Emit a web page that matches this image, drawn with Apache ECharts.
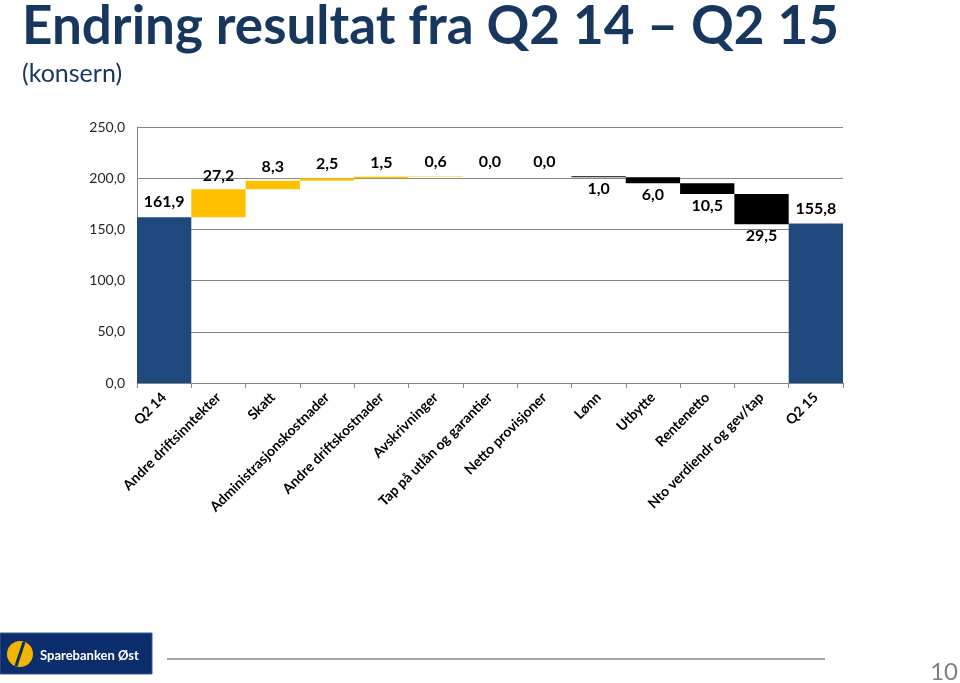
<!DOCTYPE html>
<html>
<head>
<meta charset="utf-8">
<script src="https://cdn.jsdelivr.net/npm/echarts@6/dist/echarts.min.js"></script>
<style>
html,body{margin:0;padding:0;background:#fff;}
#chart{width:960px;height:683px;}
</style>
</head>
<body>
<div id="chart"></div>
<script>
const categories = ['Q2 14','Andre driftsinntekter','Skatt','Administrasjonskostnader','Andre driftskostnader','Avskrivninger','Tap på utlån og garantier','Netto provisjoner','Lønn','Utbytte','Rentenetto','Nto verdiendr og gev/tap','Q2 15'];
const startValue = 161.9;
const changes = [27.2, 8.3, 2.5, 1.5, 0.6, 0.0, 0.0, -1.0, -6.0, -10.5, -29.5];
const endValue = 155.8;
const yTicks = [0, 50, 100, 150, 200, 250];

const FONT = 'Lato, "Open Sans", sans-serif';
const fmt = v => Number(v).toFixed(1).replace('.', ',');

// build waterfall series from the arrays
const base = [], up = [], down = [], total = [];
base.push(0); total.push(startValue); up.push('-'); down.push('-');
let run = startValue;
changes.forEach(c => {
  if (c >= 0) { base.push(run); up.push(c); down.push('-'); total.push('-'); run += c; }
  else { run += c; base.push(run); down.push(-c); up.push('-'); total.push('-'); }
});
base.push(0); total.push(endValue); up.push('-'); down.push('-');

const chart = echarts.init(document.getElementById('chart'), null, {renderer: 'canvas'});
const labelStyle = {show: true, fontFamily: FONT, fontWeight: 'bold', fontSize: 16, color: '#000', formatter: p => fmt(p.value)};
chart.setOption({
  animation: false,
  textStyle: {fontFamily: FONT},
  grid: {left: 137, right: 117, top: 127, bottom: 300, containLabel: false},
  xAxis: {
    type: 'category', data: categories,
    axisLine: {lineStyle: {color: '#868686', width: 1}},
    axisTick: {show: true, length: 5, lineStyle: {color: '#868686'}},
    axisLabel: {interval: 0, rotate: 45, margin: 12, fontFamily: FONT, fontWeight: 'bold', fontSize: 14, color: '#000'}
  },
  yAxis: {
    type: 'value', min: yTicks[0], max: yTicks[yTicks.length-1], interval: 50,
    axisLine: {show: true, lineStyle: {color: '#868686'}},
    axisTick: {show: false},
    splitLine: {lineStyle: {color: '#868686', width: 1}},
    axisLabel: {margin: 12, fontFamily: FONT, fontSize: 14, color: '#262626', formatter: v => fmt(v)}
  },
  series: [
    {type: 'bar', stack: 'w', data: base, barCategoryGap: '0%', itemStyle: {color: 'transparent'}, silent: true},
    {type: 'bar', stack: 'w', data: total, itemStyle: {color: '#1F497D'}, label: Object.assign({position: 'top', distance: 7}, labelStyle)},
    {type: 'bar', stack: 'w', data: up, itemStyle: {color: '#FFC000'}, label: Object.assign({position: 'top', distance: 6}, labelStyle)},
    {type: 'bar', stack: 'w', data: down, itemStyle: {color: '#000000'}, label: Object.assign({position: 'bottom', distance: 4}, labelStyle)}
  ],
  graphic: [
    {type: 'text', left: 22, top: 0, style: {text: 'Endring resultat fra Q2 14 – Q2 15', font: 'bold 53px ' + FONT, fill: '#17375E'}},
    {type: 'text', left: 22, top: 61, style: {text: '(konsern)', font: '25px ' + FONT, fill: '#17375E'}},
    {type: 'rect', shape: {x: 0, y: 633, width: 152, height: 41}, style: {fill: '#0B2D6B', stroke: '#3a5a95', lineWidth: 1}},
    {type: 'circle', shape: {cx: 20, cy: 654, r: 13}, style: {fill: '#F2B600'}},
    {type: 'line', shape: {x1: 24, y1: 642, x2: 16, y2: 666}, style: {stroke: '#0B2D6B', lineWidth: 3}},
    {type: 'text', x: 40, y: 656, style: {text: 'Sparebanken Øst', font: 'bold 13px ' + FONT, fill: '#fff', verticalAlign: 'middle'}},
    {type: 'line', shape: {x1: 167, y1: 659, x2: 825, y2: 659}, style: {stroke: '#A6A6A6', lineWidth: 2}},
    {type: 'text', x: 958, y: 684, style: {text: '10', font: '24px ' + FONT, fill: '#7F7F7F', align: 'right', verticalAlign: 'bottom'}}
  ]
});
</script>
</body>
</html>
